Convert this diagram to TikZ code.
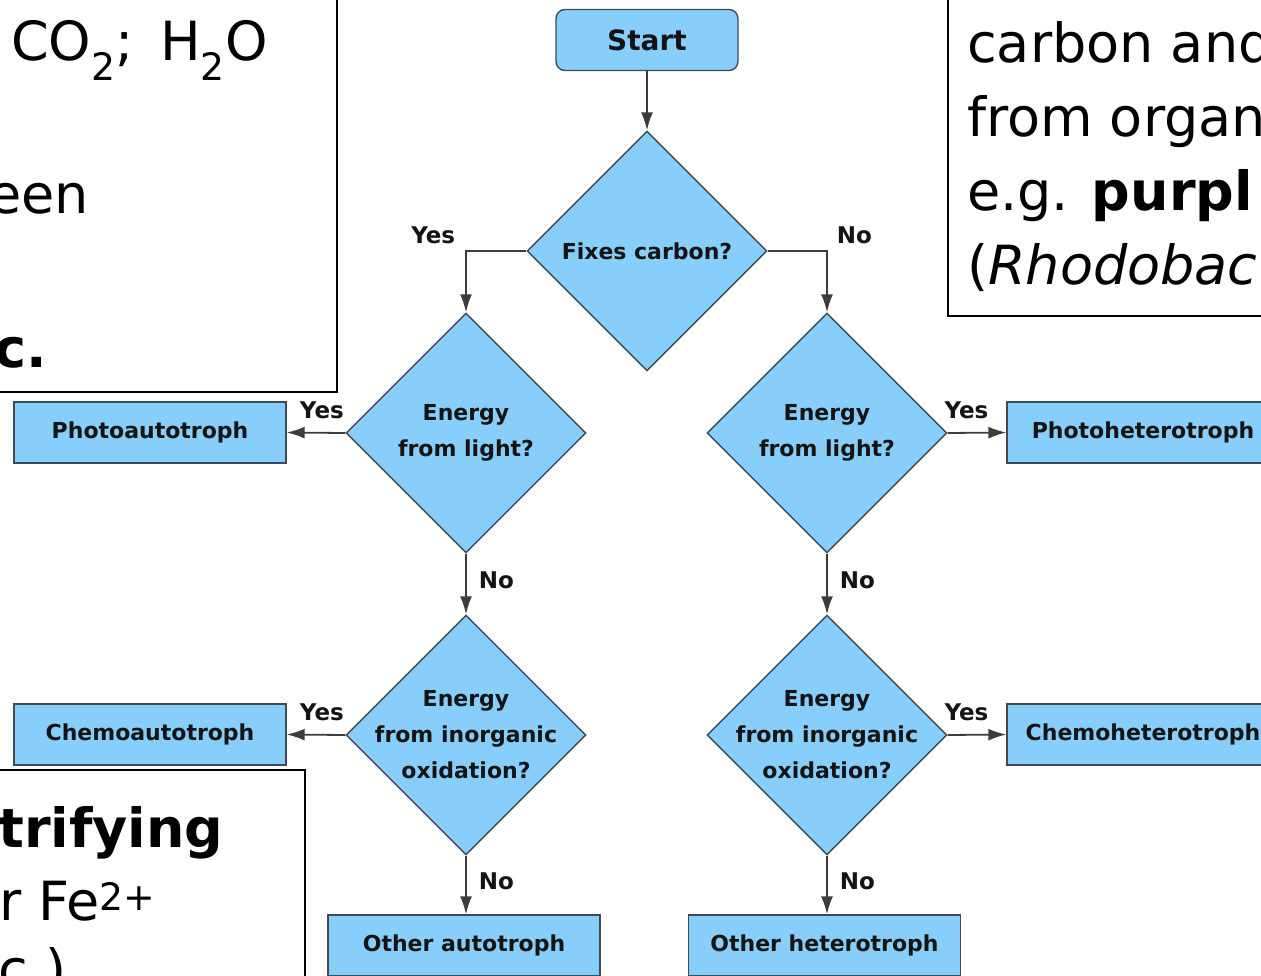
\documentclass[tikz,border=0pt]{standalone}
\usepackage{fontspec}
\setmainfont{DejaVu Sans}
\usepackage{xcolor}
\usetikzlibrary{shapes.geometric,arrows.meta,positioning}
\definecolor{boxblue}{RGB}{135,206,250}
\definecolor{edgegray}{RGB}{62,74,86}
\definecolor{linegray}{RGB}{60,60,60}
\definecolor{inkblack}{RGB}{20,20,20}

\begin{document}
\begin{tikzpicture}[x=1pt,y=-1pt,
    startbox/.style={rectangle, rounded corners=9pt, draw=edgegray, fill=boxblue, line width=1.4pt, minimum width=182pt, minimum height=61pt, font=\fontsize{28}{34}\selectfont\bfseries, text=inkblack},
    decision/.style={diamond, aspect=1, draw=edgegray, fill=boxblue, line width=1.4pt, minimum width=240pt, minimum height=240pt, inner sep=-15pt, align=center, font=\fontsize{22}{36}\selectfont\bfseries, text=inkblack},
    outcome/.style={rectangle, draw=edgegray, fill=boxblue, line width=1.4pt, minimum width=272pt, minimum height=61pt, font=\fontsize{22}{26}\selectfont\bfseries, text=inkblack},
    answer/.style={font=\fontsize{23}{28}\selectfont\bfseries, text=inkblack, inner sep=0pt},
    arr/.style={draw=linegray, line width=1.8pt, -{Latex[length=18pt,width=12pt]}},
    notebox/.style={draw=black, fill=white, line width=2pt},
    notetext/.style={anchor=base west, inner sep=0pt, text=black, font=\fontsize{54}{76}\selectfont}
  ]
  \useasboundingbox (0,0) rectangle (1261,976);
  % Draw the start box and the first question
  \node[startbox] (start) at (647,40) {Start};
  \node[decision] (fix) at (647,251) {Fixes carbon?};
  % Draw the questions, autotroph side and heterotroph side
  \node[decision] (lightA) at (466,433) {Energy\\from light?};
  \node[decision] (lightH) at (827,433) {Energy\\from light?};
  \node[decision] (inorgA) at (466,735) {Energy\\from inorganic\\oxidation?};
  \node[decision] (inorgH) at (827,735) {Energy\\from inorganic\\oxidation?};
  % Draw the outcome boxes
  \node[outcome] (photoA) at (150,432.5) {Photoautotroph};
  \node[outcome] (photoH) at (1143,432.5) {Photoheterotroph};
  \node[outcome] (chemoA) at (150,734.5) {Chemoautotroph};
  \node[outcome] (chemoH) at (1143,734.5) {Chemoheterotroph};
  \node[outcome] (otherA) at (464,945.5) {Other autotroph};
  \node[outcome] (otherH) at (824.5,945.5) {Other heterotroph};
  % Draw connecting arrows
  \draw[arr] (start.south) -- (fix.north);
  \draw[arr] (fix.west) -| node[answer, pos=0.5, anchor=south east, xshift=-10pt, yshift=6pt] {Yes} (lightA.north);
  \draw[arr] (fix.east) -| node[answer, pos=0.5, anchor=south west, xshift=9pt, yshift=6pt] {No} (lightH.north);
  \draw[arr] (lightA.west) -- node[answer, pos=0.4, anchor=south, yshift=13pt] {Yes} (photoA.east);
  \draw[arr] (lightH.east) -- node[answer, pos=0.32, anchor=south, yshift=13pt] {Yes} (photoH.west);
  \draw[arr] (lightA.south) -- node[answer, anchor=west, xshift=12pt, yshift=4pt] {No} (inorgA.north);
  \draw[arr] (lightH.south) -- node[answer, anchor=west, xshift=12pt, yshift=4pt] {No} (inorgH.north);
  \draw[arr] (inorgA.west) -- node[answer, pos=0.4, anchor=south, yshift=13pt] {Yes} (chemoA.east);
  \draw[arr] (inorgH.east) -- node[answer, pos=0.32, anchor=south, yshift=13pt] {Yes} (chemoH.west);
  \draw[arr] (inorgA.south) -- node[answer, anchor=west, xshift=12pt, yshift=4pt] {No} (inorgA.south |- otherA.north);
  \draw[arr] (inorgH.south) -- node[answer, anchor=west, xshift=12pt, yshift=4pt] {No} (inorgH.south |- otherH.north);
  % Draw the note boxes over the edges
  \draw[notebox] (-10,-10) rectangle (337,392);
  \node[notetext] (noteCO) at (11,61) {CO\textsubscript{2}; \,H\textsubscript{2}O};
  \node[notetext] (noteGreen) at (-12,214) {een};
  \node[notetext] (noteEtc) at (-6,367) {\textbf{c.}};
  \draw[notebox, line width=1.5pt] (948,-10) rectangle (1275,316);
  \node[notetext] (noteCarbon) at (967,63) {carbon and};
  \node[notetext] (noteOrg) at (967,137) {from organ};
  \node[notetext] (notePurple) at (967,211) {e.g. \textbf{purpl}};
  \node[notetext] (noteRhodo) at (967,285) {(\textit{Rhodobac}};
  \draw[notebox] (-10,770) rectangle (305,990);
  \node[notetext] (noteNitri) at (-2,847) {\textbf{trifying}};
  \node[notetext] (noteFe) at (-1,920) {r Fe\textsuperscript{2+}};
  \node[notetext] (noteClose) at (-2,988) {c.)};
\end{tikzpicture}
\end{document}
